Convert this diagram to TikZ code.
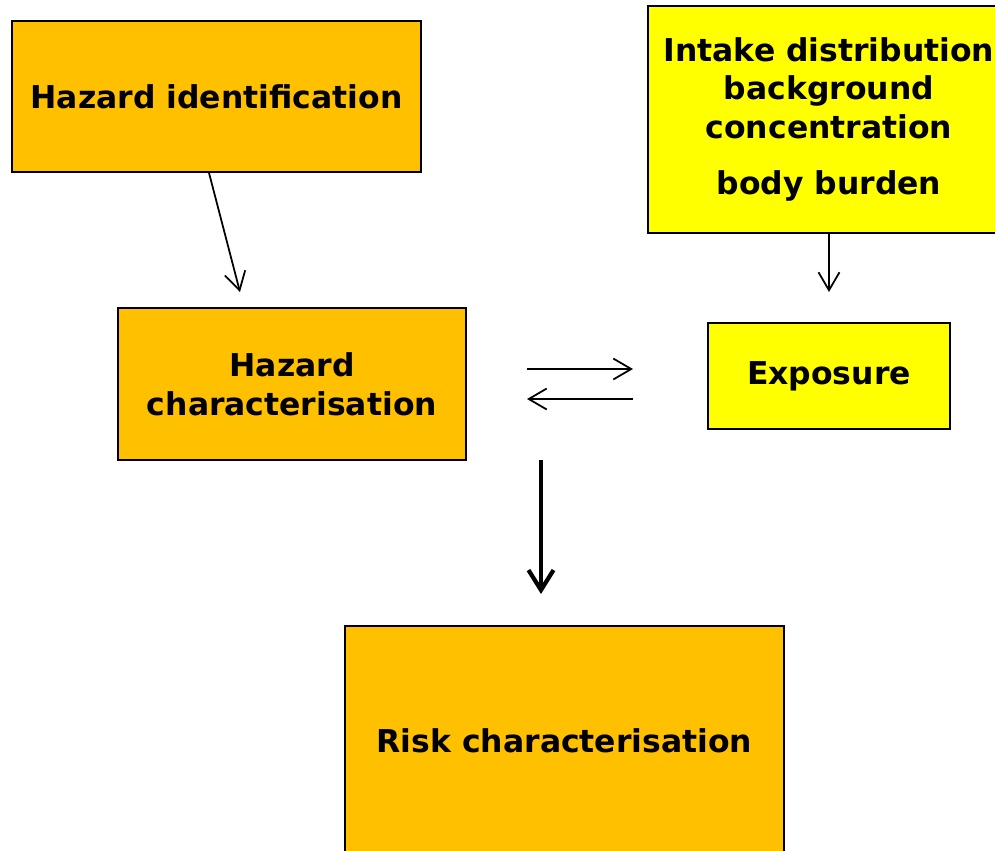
\documentclass[tikz,border=0pt]{standalone}
\usepackage{fontspec}
\setmainfont{DejaVu Sans}
\usetikzlibrary{arrows.meta}
\definecolor{hazorange}{HTML}{FFC000}
\definecolor{expyellow}{HTML}{FFFF00}

\begin{document}
\begin{tikzpicture}[x=0.02cm, y=-0.02cm,
        box/.style={draw=black, line width=1pt, align=center, inner sep=0pt,
                    font=\fontsize{17.9}{22}\selectfont\bfseries},
        hazbox/.style={box, fill=hazorange},
        expbox/.style={box, fill=expyellow},
        linkarrow/.style={line width=1pt, -{Straight Barb[length=0.36cm, width=0.42cm]}},
        mainarrow/.style={line width=2.4pt, -{Straight Barb[length=0.4cm, width=0.5cm]}}]
        \useasboundingbox (0,0) rectangle (995,850);                         %
        \node [hazbox, minimum width=8.18cm, minimum height=3.02cm]
              (hazid)   at (216.5,96.5) {Hazard identification};           %HI
        \node [expbox, minimum width=7.24cm, minimum height=4.54cm]
              (intake)  at (829,119.5)  {Intake distribution\\ background\\
                                         concentration\\[10pt] body burden}; %
        \node [hazbox, minimum width=6.96cm, minimum height=3.04cm]
              (hazchar) at (292,384)    {Hazard\\ characterisation};        %HC
        \node [expbox, minimum width=4.84cm, minimum height=2.12cm]
              (expo)    at (829,376)    {Exposure};                         %
        \node [hazbox, minimum width=8.78cm, minimum height=4.6cm]
              (risk)    at (564.5,741)  {Risk characterisation};            %RC
        %\draw [dotted] (0,0) rectangle (995,850);                          %
        \coordinate (hiend)  at (240,292);                                   %
        \coordinate (inend)  at (829,292);                                   %
        \coordinate (toexpa) at (527,369);  \coordinate (toexpb) at (633,369);
        \coordinate (tohca)  at (633,399);  \coordinate (tohcb)  at (527,399);
        \coordinate (rca)    at (541,460);  \coordinate (rcb)    at (541,594);
        \draw [linkarrow] ([xshift=-0.15cm]hazid.south) -- (hiend);         %
        \draw [linkarrow] (intake.south) -- (inend);                         %
        \draw [linkarrow] (toexpa) -- (toexpb);                              %
        \draw [linkarrow] (tohca)  -- (tohcb);                               %
        \draw [mainarrow] (rca)    -- (rcb);                                 %
\end{tikzpicture}
\end{document}
